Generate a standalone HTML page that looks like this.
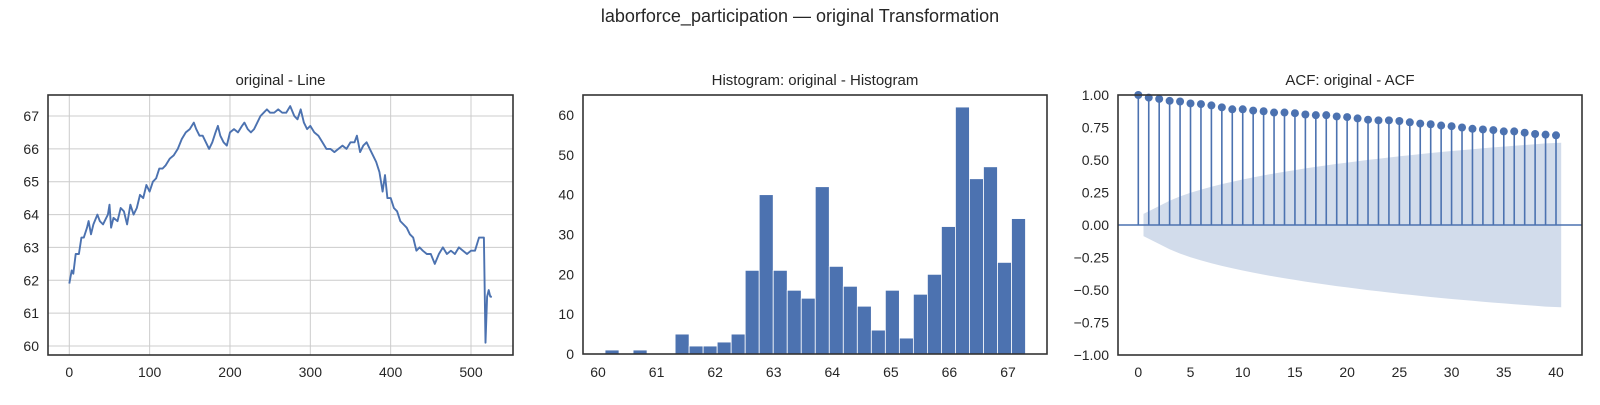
<!DOCTYPE html>
<html><head><meta charset="utf-8"><style>
body{margin:0;background:#fff;}
svg text{font-family:"Liberation Sans",Arial,sans-serif;fill:#262626;}
</style></head><body>
<svg id="fig" width="1600" height="400" xmlns="http://www.w3.org/2000/svg">
<text x="800" y="22" font-size="18" text-anchor="middle">laborforce_participation — original Transformation</text>
<g id="p1"></g>
<g id="p2"></g>
<g id="p3"></g>
</svg>
<script>
const lineIdx=[0,3,5,8,12,15,18,22,24,27,30,35,38,42,48,50,52,55,60,64,68,72,76,80,84,88,92,96,100,104,108,112,116,120,125,130,135,140,145,150,155,158,162,166,170,174,178,182,185,188,192,196,200,205,210,215,218,222,226,230,234,238,242,246,250,255,260,265,270,275,280,284,288,292,296,300,305,310,315,320,325,330,335,340,345,350,355,358,362,366,370,374,378,382,386,390,393,396,400,404,408,412,416,420,424,428,432,436,440,445,450,455,460,465,470,475,480,485,490,495,500,505,510,514,516,518,520,522,524,526];
const lineVals=[61.9,62.3,62.2,62.8,62.8,63.3,63.3,63.6,63.8,63.4,63.7,64.0,63.8,63.7,64.0,64.3,63.6,63.9,63.8,64.2,64.1,63.7,64.3,64.0,64.2,64.6,64.5,64.9,64.7,65.0,65.1,65.4,65.4,65.5,65.7,65.8,66.0,66.3,66.5,66.6,66.8,66.6,66.4,66.4,66.2,66.0,66.2,66.5,66.7,66.4,66.2,66.1,66.5,66.6,66.5,66.7,66.8,66.6,66.5,66.6,66.8,67.0,67.1,67.2,67.1,67.1,67.2,67.1,67.1,67.3,67.0,66.9,67.2,66.8,66.6,66.7,66.5,66.4,66.2,66.0,66.0,65.9,66.0,66.1,66.0,66.2,66.2,66.4,65.9,66.1,66.2,66.0,65.8,65.6,65.3,64.7,65.2,64.5,64.5,64.2,64.1,63.8,63.7,63.6,63.4,63.3,62.9,63.0,62.9,62.8,62.8,62.5,62.8,63.0,62.8,62.9,62.8,63.0,62.9,62.8,62.9,62.9,63.3,63.3,63.3,60.1,61.5,61.7,61.5,61.5];
const lineXTicks=[0,100,200,300,400,500];
const lineYTicks=[60,61,62,63,64,65,66,67];
const histStart=60.12, histBinW=0.2393;
const histCounts=[1,0,1,0,0,5,2,2,3,5,21,40,21,16,14,42,22,17,12,6,16,4,15,20,32,62,44,47,23,34];
const histXTicks=[60,61,62,63,64,65,66,67];
const histYTicks=[0,10,20,30,40,50,60];
const acfVals=[1.0,0.98,0.97,0.955,0.95,0.935,0.93,0.92,0.905,0.89,0.89,0.88,0.875,0.865,0.865,0.86,0.85,0.845,0.845,0.835,0.83,0.82,0.81,0.805,0.805,0.8,0.79,0.78,0.775,0.765,0.76,0.75,0.74,0.735,0.73,0.72,0.72,0.71,0.70,0.695,0.69];
const acfXTicks=[0,5,10,15,20,25,30,35,40];
const acfYTicks=[-1,-0.75,-0.5,-0.25,0,0.25,0.5,0.75,1];
const nObs=527;

const NS='http://www.w3.org/2000/svg';
function mk(p,tag,attrs,txt){const e=document.createElementNS(NS,tag);for(const k in attrs)e.setAttribute(k,attrs[k]);if(txt!==undefined)e.textContent=txt;p.appendChild(e);return e;}
const C='#4c72b0';
function lin(d0,d1,r0,r1){return v=>r0+(v-d0)*(r1-r0)/(d1-d0);}
function frame(g,L,T,R,B,title,tname){
  const t=mk(g,'text',{x:(L+R)/2,y:T-10,'font-size':15,'text-anchor':'middle'},title);
  
  
}
function spine(g,L,T,R,B){const r=mk(g,'rect',{x:L,y:T,width:R-L,height:B-T,fill:'none',stroke:'#333',"stroke-width":1.6});

}
function xtick(g,x,y,label){const t=mk(g,'text',{x:x,y:y,'font-size':14,'text-anchor':'middle'},label);

}
function ytick(g,x,y,label){const t=mk(g,'text',{x:x,y:y+5,'font-size':14,'text-anchor':'end'},label);

}

(function(){
const g=document.getElementById('p1');const L=48,T=95,R=513,B=355;
const x=lin(0,500,69.3,471),y=lin(60,67,346,116);
frame(g,L,T,R,B,'original - Line','line-title');
lineXTicks.forEach(v=>{const l=mk(g,'line',{x1:x(v),x2:x(v),y1:T,y2:B,stroke:'#cccccc','stroke-width':1});xtick(g,x(v),B+22,v);});
lineYTicks.forEach(v=>{const l=mk(g,'line',{x1:L,x2:R,y1:y(v),y2:y(v),stroke:'#cccccc','stroke-width':1});ytick(g,L-9,y(v),v);});
const pts=lineIdx.map((i,k)=>x(i).toFixed(1)+','+y(lineVals[k]).toFixed(1)).join(' ');
const pl=mk(g,'polyline',{points:pts,fill:'none',stroke:C,'stroke-width':1.9,'stroke-linejoin':'round'});


spine(g,L,T,R,B);
})();

(function(){
const g=document.getElementById('p2');const L=583,T=95,R=1047,B=354;
const x=lin(60,67,598,1008),y=lin(0,60,354,115);
frame(g,L,T,R,B,'Histogram: original - Histogram','histogram-title');
histCounts.forEach((c,i)=>{const x0=x(histStart+i*histBinW),x1=x(histStart+(i+1)*histBinW);
const r=mk(g,'rect',{x:x0,y:y(c),width:x1-x0,height:y(0)-y(c),fill:C,stroke:'#fff','stroke-width':0.8});

});
histXTicks.forEach(v=>xtick(g,x(v),B+23,v));
histYTicks.forEach(v=>ytick(g,L-9,y(v),v));
spine(g,L,T,R,B);
})();

(function(){
const g=document.getElementById('p3');const L=1118,T=95,R=1582,B=355;
const x=lin(0,40,1138.3,1556),y=lin(-1,1,355,95);
frame(g,L,T,R,B,'ACF: original - ACF','acf-title');
const lags=[],se=[];let s=0;
for(let k=1;k<acfVals.length;k++){ if(k>1)s+=acfVals[k-1]*acfVals[k-1]; lags.push(k===1?0.5:(k===acfVals.length-1?k+0.5:k)); se.push(1.96*Math.sqrt((1+2*s)/nObs)); }
let d='M'+lags.map((l,i)=>x(l).toFixed(1)+','+y(se[i]).toFixed(1)).join(' L');
d+=' L'+lags.slice().reverse().map((l,i)=>x(l).toFixed(1)+','+y(-se[se.length-1-i]).toFixed(1)).join(' L')+' Z';
const band=mk(g,'path',{d:d,fill:C,'fill-opacity':0.25,stroke:'none'});


const z=mk(g,'line',{x1:L,x2:R,y1:y(0),y2:y(0),stroke:C,'stroke-width':1.6});


acfVals.forEach((v,k)=>{
 const st=mk(g,'line',{x1:x(k),x2:x(k),y1:y(0),y2:y(v),stroke:C,'stroke-width':1.6});
 
 
 const c=mk(g,'circle',{cx:x(k),cy:y(v),r:4,fill:C});
 
 
});
acfXTicks.forEach(v=>xtick(g,x(v),B+22,v));
acfYTicks.forEach(v=>ytick(g,L-9,y(v),(v<0?'\u2212':'')+Math.abs(v).toFixed(2)));
spine(g,L,T,R,B);
})();
</script>
</body></html>
